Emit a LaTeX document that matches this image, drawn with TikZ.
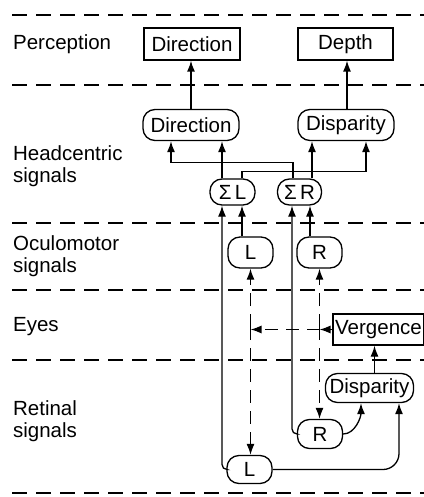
\documentclass[tikz,border=0pt]{standalone}
\usepackage{fontspec}
\setmainfont{Liberation Sans}
\usetikzlibrary{arrows.meta}
\begin{document}
\begin{tikzpicture}[x=1pt,y=-1pt,
  line width=1.3pt,
  font=\fontsize{20.5}{22}\selectfont,
  arr/.style={-{Latex[length=11pt,width=8pt]}},
  darr/.style={dash pattern=on 13pt off 8pt},
  sep/.style={line width=1.4pt, dash pattern=on 15pt off 9pt},
  sqbox/.style={draw, rectangle, inner sep=0pt},
  rbox/.style={draw, rectangle, rounded corners=12pt, inner sep=0pt},
  lbl/.style={anchor=west, align=left, inner sep=0pt}]
\useasboundingbox (0,0) rectangle (423,497);

% level separators
\foreach \yy in {15,85,223,290,360,493}
  \draw[sep] (12,\yy) -- (430,\yy);

% level labels
\node[lbl] (lPer) at (12.5,44) {Perception};
\node[lbl] (lHead) at (12.5,166) {Headcentric\\signals};
\node[lbl] (lOcu) at (12.5,256) {Oculomotor\\signals};
\node[lbl] (lEye) at (12.5,327) {Eyes};
\node[lbl] (lRet) at (12.5,421) {Retinal\\signals};

% perception
\node[sqbox, minimum width=96pt, minimum height=32pt] (pDir) at (192,44) {Direction};
\node[sqbox, minimum width=95pt, minimum height=32pt] (pDepth) at (345.5,44) {Depth};

% headcentric signals
\node[rbox, minimum width=96pt, minimum height=31pt] (hDir) at (191,125) {Direction};
\node[rbox, minimum width=96pt, minimum height=31pt] (hDisp) at (346,125) {Disparity};
\node[rbox, minimum width=45pt, minimum height=26pt] (sL) at (232.5,192) {Σ\,L};
\node[rbox, minimum width=44pt, minimum height=26pt] (sR) at (299.5,192) {Σ\,R};

% oculomotor signals
\node[rbox, minimum width=45pt, minimum height=31pt] (oL) at (250.5,252.5) {L};
\node[rbox, minimum width=45pt, minimum height=31pt] (oR) at (319.5,252.5) {R};

% eyes
\node[sqbox, minimum width=91pt, minimum height=31pt] (verg) at (378.5,329.5) {Vergence};

% retinal signals
\node[rbox, minimum width=88pt, minimum height=29pt] (rDisp) at (369.5,388) {Disparity};
\node[rbox, minimum width=45pt, minimum height=29pt] (rR) at (320,434) {R};
\node[rbox, minimum width=45pt, minimum height=28pt] (rL) at (249.5,469.5) {L};

% to perception
\draw[arr] (hDir.north) -- (hDir.north |- pDir.south);
\draw[arr] ([xshift=1pt]hDisp.north) -- ([xshift=1pt]hDisp.north |- pDepth.south);

% sums to headcentric signals
\draw[arr] ([xshift=-6.5pt]sR.north) -- ++(0,-16) -| ([xshift=-20pt]hDir.south);
\draw[arr] ([xshift=-10.5pt]sL.north) -- ([xshift=-10.5pt]sL.north |- hDir.south);
\draw[arr] ([xshift=9.5pt]sL.north) -- ++(0,-7) -| ([xshift=20pt]hDisp.south);
\draw[arr] ([xshift=12.5pt]sR.north) -- ([xshift=12.5pt]sR.north |- hDisp.south);

% retinal and oculomotor inputs to the sums
\draw[arr, rounded corners=5pt] (rL.west) -| ([xshift=-10.5pt]sL.south);
\draw[arr, rounded corners=5pt] (rR.west) -| ([xshift=-7.5pt]sR.south);
\draw[arr] ([xshift=9.5pt]sL.south |- oL.north) -- ([xshift=9.5pt]sL.south);
\draw[arr] ([xshift=10.5pt]sR.south |- oR.north) -- ([xshift=10.5pt]sR.south);

% eye positions
\draw[darr, arr] (oL.south |- lEye.east) -- (oL.south);
\draw[darr, arr] (oL.south |- lEye.east) -- (oL.south |- rL.north);
\draw[darr, arr] (oR.south |- lEye.east) -- (oR.south);
\draw[darr, arr] (oR.south |- lEye.east) -- (oR.south |- rR.north);
\coordinate (vR) at (verg.west -| oR.south);
\draw[darr, arr] (verg.west) -- (vR);
\draw[darr, arr] (vR) -- (verg.west -| oL.south);

% retinal disparity
\draw[arr] ([xshift=5pt]rDisp.north) -- ([xshift=5pt]rDisp.north |- verg.south);
\draw[arr] (rR.east) .. controls +(12,0) and +(0,14) .. ([xshift=-8.5pt]rDisp.south);
\draw[arr, rounded corners=16pt] (rL.east) -| ([xshift=29.5pt]rDisp.south);
\end{tikzpicture}
\end{document}
